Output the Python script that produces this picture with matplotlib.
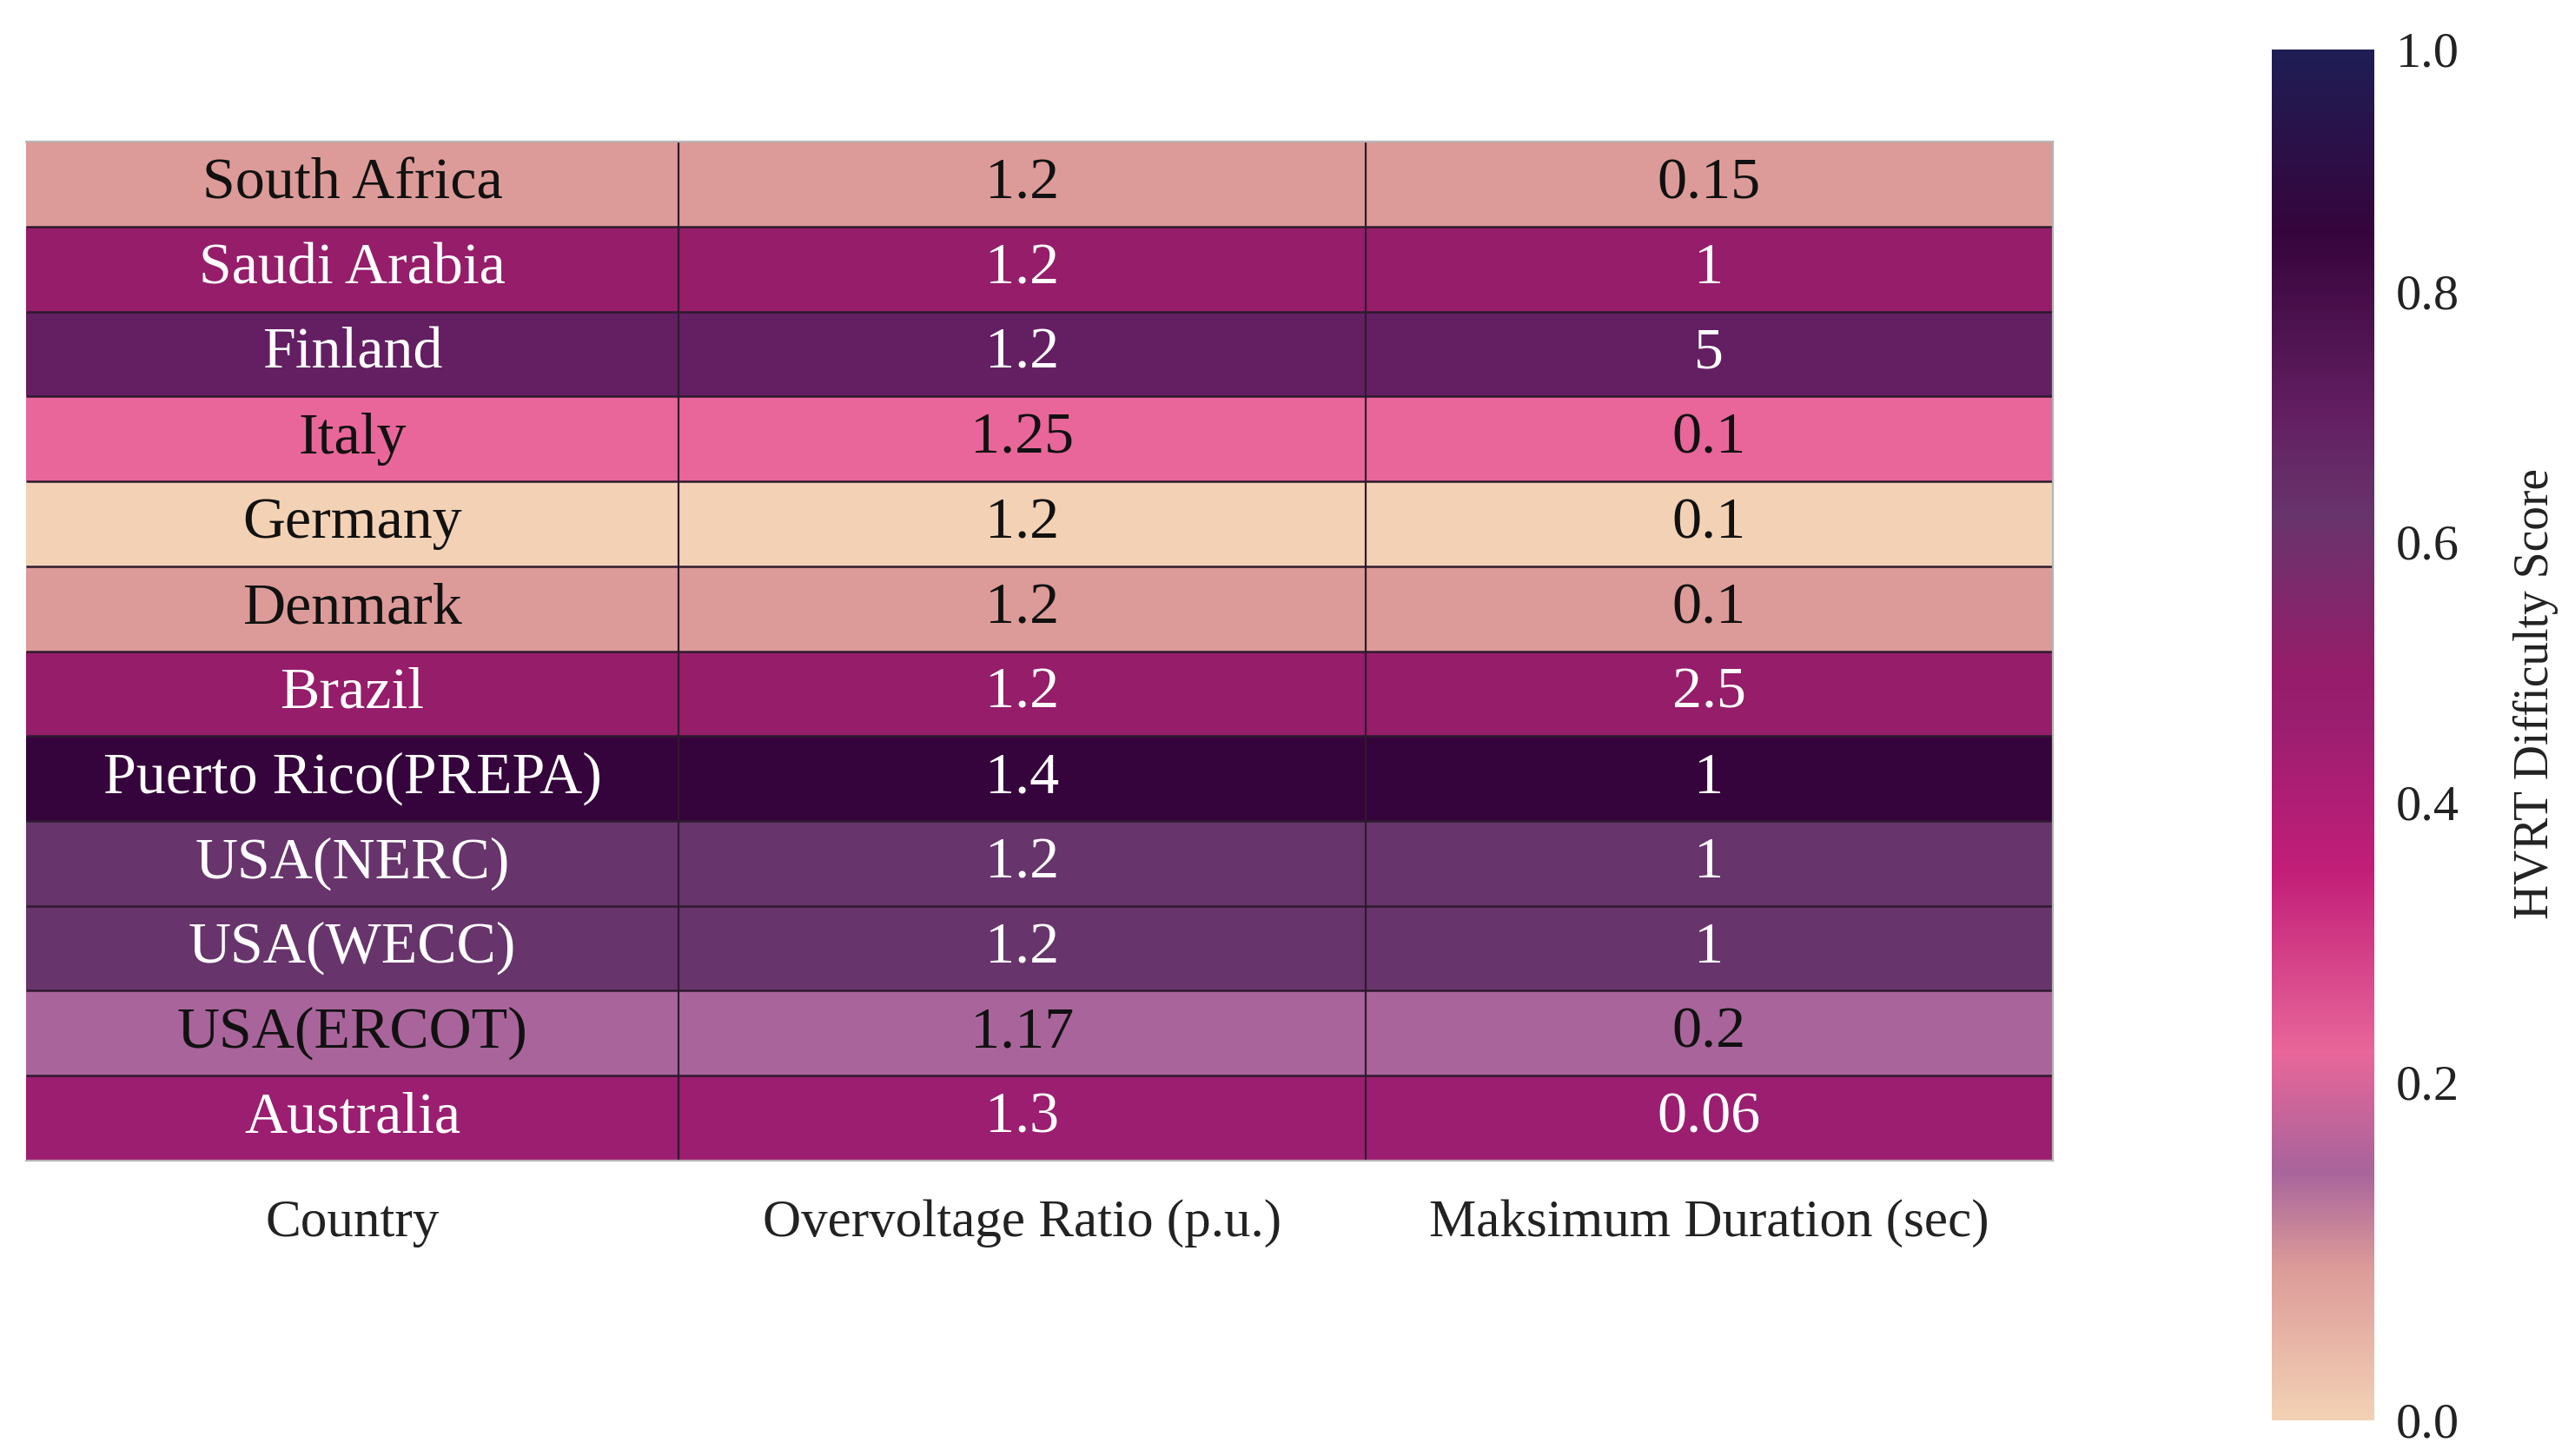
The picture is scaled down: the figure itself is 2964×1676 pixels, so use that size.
import numpy as np
import matplotlib
matplotlib.use("Agg")
import matplotlib.pyplot as plt
from matplotlib.colors import LinearSegmentedColormap, PowerNorm

plt.rcParams["font.family"] = ["Liberation Serif", "DejaVu Serif"]

# ─── Data ────────────────────────────────────────────────────────────────────
countries = ["South Africa", "Saudi Arabia", "Finland", "Italy", "Germany",
             "Denmark", "Brazil", "Puerto Rico(PREPA)", "USA(NERC)",
             "USA(WECC)", "USA(ERCOT)", "Australia"]
overvoltage = ["1.2", "1.2", "1.2", "1.25", "1.2", "1.2", "1.2", "1.4",
               "1.2", "1.2", "1.17", "1.3"]
duration = ["0.15", "1", "5", "0.1", "0.1", "0.1", "2.5", "1", "1", "1",
            "0.2", "0.06"]
scores = [0.08, 0.50, 0.70, 0.22, 0.00, 0.08, 0.50, 0.85, 0.62, 0.62,
          0.14, 0.46]
col_labels = ["Country", "Overvoltage Ratio (p.u.)", "Maksimum Duration (sec)"]

# colormap anchors (score, colour)
anchor_scores = [0.00, 0.08, 0.14, 0.22, 0.35, 0.46, 0.50, 0.62, 0.70,
                 0.85, 1.00]
anchor_colors = ["#f3d1b5", "#dc9a98", "#a8649b", "#e8669a", "#c21e78",
                 "#9b1e70", "#951d6a", "#68346c", "#631f62", "#36043c",
                 "#1e1e55"]

# layout: relative column widths (first column a bit narrower)
col_widths = [0.95, 1.0, 1.0]

norm = PowerNorm(gamma=0.87, vmin=0.0, vmax=1.0)
positions = [float(norm(s)) for s in anchor_scores]
positions[0], positions[-1] = 0.0, 1.0
cmap = LinearSegmentedColormap.from_list(
    "hvrt", list(zip(positions, anchor_colors)), N=512)

# ─── Figure ──────────────────────────────────────────────────────────────────
fig = plt.figure(figsize=(14.82, 8.38), dpi=200)
ax = fig.add_axes([0.0101, 0.2029, 0.787, 0.6998])
cax = fig.add_axes([0.8823, 0.0245, 0.0398, 0.9415])

n_rows = len(countries)
x_edges = np.concatenate([[0], np.cumsum(col_widths)])
x_mid = (x_edges[:-1] + x_edges[1:]) / 2
y_edges = np.arange(n_rows + 1)
grid = np.repeat(np.array(scores)[:, None], 3, axis=1)
mesh = ax.pcolormesh(x_edges, y_edges, grid, cmap=cmap, norm=norm)
ax.set_xlim(x_edges[0], x_edges[-1])
ax.set_ylim(n_rows, 0)

# cell separators
ax.hlines(np.arange(1, n_rows), x_edges[0], x_edges[-1],
          color="#2e1a2e", linewidth=0.9)
ax.vlines(x_edges[1:-1], 0, n_rows, color="#2e1a2e", linewidth=0.8)
for sp in ax.spines.values():
    sp.set_color("#b5b5b5")
    sp.set_linewidth(0.8)
ax.spines["left"].set_visible(False)

# cell text
for i in range(n_rows):
    tc = "white" if scores[i] >= 0.3 else "#111111"
    for j, txt in enumerate([countries[i], overvoltage[i], duration[i]]):
        ax.text(x_mid[j], i + 0.5, txt, ha="center", va="center",
                fontsize=24.5, color=tc)

ax.set_xticks(x_mid)
ax.set_xticklabels(col_labels, fontsize=22, color="#222222")
ax.set_yticks([])
ax.tick_params(axis="x", length=0, pad=16)

# ─── Colorbar ────────────────────────────────────────────────────────────────
cb = fig.colorbar(mesh, cax=cax)
cb.outline.set_visible(False)
cb.set_ticks([0.0, 0.2, 0.4, 0.6, 0.8, 1.0])
cb.set_ticklabels(["0.0", "0.2", "0.4", "0.6", "0.8", "1.0"])
cax.tick_params(length=0, pad=9, labelsize=21, colors="#222222")
cb.set_label("HVRT Difficulty Score", fontsize=20, color="#222222",
             labelpad=18)
cax.yaxis.set_label_coords(2.35, 0.53)

fig.savefig("out.png", dpi=200, facecolor="white")
